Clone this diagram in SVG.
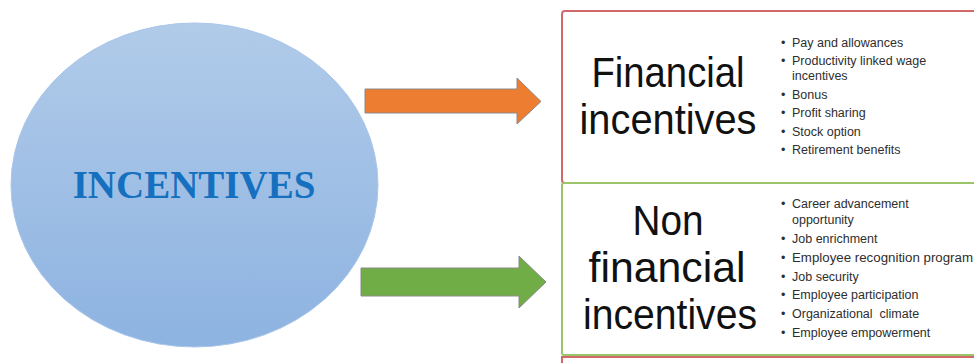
<svg xmlns="http://www.w3.org/2000/svg" width="974" height="363" viewBox="0 0 974 363">
<defs>
<linearGradient id="circ" x1="0" y1="0" x2="0" y2="1">
<stop offset="0" stop-color="#b1cbe9"/>
<stop offset="1" stop-color="#8db3e1"/>
</linearGradient>
<style>
.big{font-family:"Liberation Sans",Arial,sans-serif;font-size:43px;fill:#111;text-anchor:middle}
.li{font-family:"Liberation Sans",Arial,sans-serif;font-size:12.5px;fill:#2e2e2e}
.title{font-family:"Liberation Serif","Times New Roman",serif;font-size:39px;font-weight:bold;fill:#1570c0;text-anchor:middle}
.arrow{stroke:#8a8a8a;stroke-width:1}
</style>
</defs>
<rect width="974" height="363" fill="#ffffff"/>
<g id="incentives">
<ellipse cx="194.5" cy="185" rx="183.5" ry="162" fill="url(#circ)" stroke="#a9c6ea" stroke-width="1"/>
<text class="title" x="194" y="198">INCENTIVES</text>
</g>
<g id="connectors">
<polygon class="arrow" fill="#ed7d31" points="365,89 517,89 517,78 541,101.5 517,124 517,113 365,113"/>
<polygon class="arrow" fill="#70ad47" points="361,268 519,268 519,256 546,282 519,308 519,296 361,296"/>
</g>
<g id="financial">
<rect x="562" y="11" width="430" height="172" rx="3" fill="#ffffff" stroke="#d06a6a" stroke-width="2"/>
<text class="big" x="668" y="87" textLength="153" lengthAdjust="spacingAndGlyphs">Financial</text>
<text class="big" x="668" y="134" textLength="177" lengthAdjust="spacingAndGlyphs">incentives</text>
<text class="li"><tspan x="781" y="47">•</tspan><tspan x="792">Pay and allowances</tspan></text>
<text class="li"><tspan x="781" y="65">•</tspan><tspan x="792">Productivity linked wage</tspan></text>
<text class="li" x="792" y="80">incentives</text>
<text class="li"><tspan x="781" y="99">•</tspan><tspan x="792">Bonus</tspan></text>
<text class="li"><tspan x="781" y="117">•</tspan><tspan x="792">Profit sharing</tspan></text>
<text class="li"><tspan x="781" y="136">•</tspan><tspan x="792">Stock option</tspan></text>
<text class="li"><tspan x="781" y="154">•</tspan><tspan x="792">Retirement benefits</tspan></text>
</g>
<g id="nonfinancial">
<rect x="562" y="183" width="430" height="172" rx="2" fill="#ffffff" stroke="#9bc36a" stroke-width="2"/>
<text class="big" x="668" y="235" textLength="71" lengthAdjust="spacingAndGlyphs">Non</text>
<text class="big" x="667" y="282" textLength="157" lengthAdjust="spacingAndGlyphs">financial</text>
<text class="big" x="670" y="329" textLength="174" lengthAdjust="spacingAndGlyphs">incentives</text>
<text class="li"><tspan x="781" y="208">•</tspan><tspan x="792">Career advancement</tspan></text>
<text class="li" x="792" y="224">opportunity</text>
<text class="li"><tspan x="781" y="243">•</tspan><tspan x="792">Job enrichment</tspan></text>
<text class="li"><tspan x="781" y="262">•</tspan><tspan x="792" textLength="181" lengthAdjust="spacingAndGlyphs">Employee recognition program</tspan></text>
<text class="li"><tspan x="781" y="281">•</tspan><tspan x="792">Job security</tspan></text>
<text class="li"><tspan x="781" y="299">•</tspan><tspan x="792">Employee participation</tspan></text>
<text class="li" style="white-space:pre"><tspan x="781" y="318">•</tspan><tspan x="792">Organizational  climate</tspan></text>
<text class="li"><tspan x="781" y="337">•</tspan><tspan x="792">Employee empowerment</tspan></text>
</g>
<g id="next-box">
<rect x="562" y="357" width="430" height="40" fill="none" stroke="#d06a6a" stroke-width="2"/>
</g>
</svg>
